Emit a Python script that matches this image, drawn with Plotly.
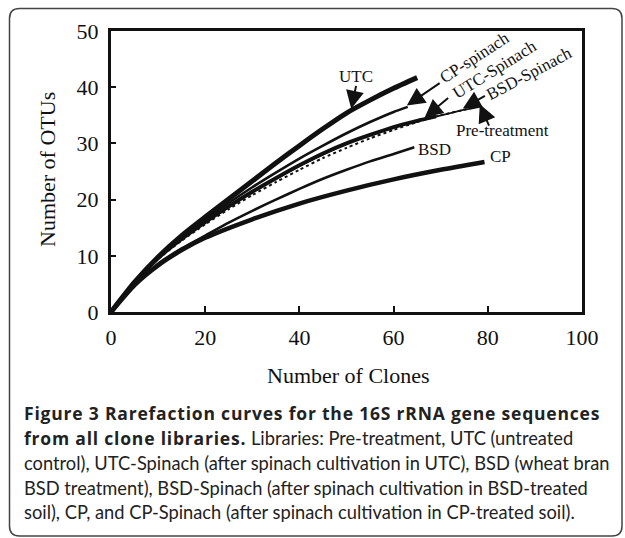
import numpy as np
import plotly.graph_objects as go

# ---------------- data ----------------
utc_x = [0, 5, 10, 15, 20, 25, 30, 35, 40, 45, 50, 55, 60, 65]
utc_y = [0, 5.3, 9.8, 13.6, 16.9, 20.1, 23.3, 26.5, 29.6, 32.6, 35.4, 37.7, 39.8, 41.7]

cpsp_x = [0, 5, 10, 15, 20, 25, 30, 35, 40, 45, 50, 55, 60, 63]
cpsp_y = [0, 5.3, 9.7, 13.3, 16.4, 19.4, 22.2, 24.8, 27.3, 29.6, 31.8, 33.8, 35.6, 36.5]

utcsp_x = [0, 5, 10, 15, 20, 25, 30, 35, 40, 45, 50, 55, 60, 65, 69]
utcsp_y = [0, 5.2, 9.6, 13.0, 16.0, 18.8, 21.4, 23.8, 26.1, 28.2, 30.0, 31.5, 32.9, 34.0, 34.8]

bsdsp_x = [0, 5, 10, 15, 20, 25, 30, 35, 40, 45, 50, 55, 60, 65, 69, 74, 78.2]
bsdsp_y = [0, 5.2, 9.6, 13.0, 15.9, 18.7, 21.3, 23.7, 26.0, 28.0, 29.9, 31.5, 32.9, 34.0, 34.8, 35.8, 36.5]

pre_x = [0, 5, 10, 15, 20, 25, 30, 35, 40, 45, 50, 55, 60, 65, 70, 75, 78.5]
pre_y = [0, 5.2, 9.4, 12.7, 15.6, 18.3, 20.8, 23.1, 25.3, 27.4, 29.2, 30.9, 32.4, 33.8, 35.0, 36.0, 36.7]

bsd_x = [0, 5, 10, 15, 20, 25, 30, 35, 40, 45, 50, 55, 60, 64.4]
bsd_y = [0, 4.9, 8.6, 11.3, 13.6, 15.9, 18.0, 20.0, 21.9, 23.7, 25.3, 26.8, 28.1, 29.3]

cp_x = [0, 5, 10, 15, 20, 30, 40, 50, 60, 70, 79.3]
cp_y = [0, 4.8, 8.3, 11.0, 13.2, 16.5, 19.3, 21.6, 23.6, 25.3, 26.7]

x_ticks = [0, 20, 40, 60, 80, 100]
y_ticks = [0, 10, 20, 30, 40, 50]

# curve labels: text, x, y, angle
labels = [
    ("UTC", 52.1, 41.9, 0),
    ("CP-spinach", 77.2, 45.3, -33),
    ("UTC-Spinach", 81.4, 43.2, -32),
    ("BSD-Spinach", 88.8, 42.5, -28),
    ("Pre-treatment", 83.2, 32.3, 0),
    ("BSD", 68.7, 28.9, 0),
    ("CP", 82.8, 27.6, 0),
]
# arrows: curve name, tail (x, y), tip x on that curve
arrows = [
    ("UTC", 52.1, 40.5, 51.0),
    ("CP-spinach", 70.1, 40.9, 62.8),
    ("UTC-Spinach", 71.9, 38.3, 66.6),
    ("BSD-Spinach", 79.7, 38.6, 74.7),
    ("Pre-treatment", 80.4, 32.9, 78.3),
]

BOLD = ('<span style="font-family:\'Open Sans\';font-weight:bold;font-size:17.5px;'
        'letter-spacing:0.8px">')
caption_lines = [
    BOLD + "Figure 3 Rarefaction curves for the 16S rRNA gene sequences</span>",
    BOLD + "from all clone libraries.</span> Libraries: Pre-treatment, UTC (untreated",
    "control), UTC-Spinach (after spinach cultivation in UTC), BSD (wheat bran",
    "BSD treatment), BSD-Spinach (after spinach cultivation in BSD-treated",
    "soil), CP, and CP-Spinach (after spinach cultivation in CP-treated soil).",
]

# ---------------- figure ----------------
W, H = 625, 538
L, R, T, B = 111, 43, 31, 226
pw, ph = W - L - R, H - T - B


def px2paper(px, py):
    return (px - L) / pw, (H - B - py) / ph


black = "#111111"
series = [
    ("UTC", utc_x, utc_y, 5, "solid"),
    ("CP-spinach", cpsp_x, cpsp_y, 2.6, "solid"),
    ("UTC-Spinach", utcsp_x, utcsp_y, 4, "solid"),
    ("BSD-Spinach", bsdsp_x, bsdsp_y, 1.8, "solid"),
    ("Pre-treatment", pre_x, pre_y, 2, "dot"),
    ("BSD", bsd_x, bsd_y, 2.6, "solid"),
    ("CP", cp_x, cp_y, 4.5, "solid"),
]
curve = {}
fig = go.Figure()
for name, xs, ys, w, dash in series:
    curve[name] = (xs, ys)
    fig.add_trace(go.Scatter(x=xs, y=ys, mode="lines", name=name,
                             line=dict(color=black, width=w, dash=dash, shape="spline", smoothing=0.6),
                             showlegend=False, hoverinfo="skip"))

serif = "Liberation Serif, Times New Roman, serif"
annotations = []
for text, x, y, ang in labels:
    annotations.append(dict(x=x, y=y, xref="x", yref="y", text=text, showarrow=False,
                            textangle=ang, font=dict(family=serif, size=17, color=black)))
for name, tx, ty, hx in arrows:
    xs, ys = curve[name]
    hy = float(np.interp(hx, xs, ys)) + 0.3
    annotations.append(dict(x=hx, y=hy, xref="x", yref="y", ax=tx, ay=ty, axref="x", ayref="y",
                            text="", showarrow=True, arrowhead=2, arrowsize=1.8, arrowwidth=2,
                            arrowcolor=black, standoff=0))

# axis titles
xt = px2paper(348, 375)
annotations.append(dict(x=xt[0], y=xt[1], xref="paper", yref="paper", text="Number of Clones",
                        xanchor="center", yanchor="middle",
                        showarrow=False, font=dict(family=serif, size=22, color=black)))
yt = px2paper(47, 170)
annotations.append(dict(x=yt[0], y=yt[1], xref="paper", yref="paper", text="Number of OTUs",
                        xanchor="center", yanchor="middle",
                        showarrow=False, textangle=-90, font=dict(family=serif, size=22, color=black)))

cap_y = [413, 438, 463, 488, 512]
for line, py in zip(caption_lines, cap_y):
    cx, cy = px2paper(22, py)
    annotations.append(dict(x=cx, y=cy, xref="paper", yref="paper", text=line, showarrow=False,
                            xanchor="left", yanchor="middle",
                            font=dict(family="Lato, Open Sans, sans-serif", size=18.3, color="#222222")))

# rounded frame
fx0, fy0 = px2paper(9.5, 8.5)
fx1, fy1 = px2paper(622, 536)
rx, ry = 10 / pw, 10 / ph
path = (f"M {fx0+rx},{fy0} L {fx1-rx},{fy0} Q {fx1},{fy0} {fx1},{fy0-ry} "
        f"L {fx1},{fy1+ry} Q {fx1},{fy1} {fx1-rx},{fy1} "
        f"L {fx0+rx},{fy1} Q {fx0},{fy1} {fx0},{fy1+ry} "
        f"L {fx0},{fy0-ry} Q {fx0},{fy0} {fx0+rx},{fy0} Z")

fig.update_layout(
    width=W, height=H, margin=dict(l=L, r=R, t=T, b=B, autoexpand=False),
    paper_bgcolor="white", plot_bgcolor="white",
    annotations=annotations,
    shapes=[dict(type="path", path=path, xref="paper", yref="paper",
                 line=dict(color="#444444", width=1.5), layer="below")],
    xaxis=dict(range=[0, 100], tickvals=x_ticks, showgrid=False, zeroline=False,
               showline=True, linewidth=3, linecolor=black, mirror=True,
               ticks="inside", ticklen=6, tickwidth=1.5, tickcolor=black,
               ticklabelstandoff=4,
               tickfont=dict(family=serif, size=22, color=black)),
    yaxis=dict(range=[0, 50], tickvals=y_ticks, showgrid=False, zeroline=False,
               showline=True, linewidth=3, linecolor=black, mirror=True,
               ticks="inside", ticklen=5, tickwidth=1.5, tickcolor=black,
               ticklabelstandoff=5,
               tickfont=dict(family=serif, size=22, color=black)),
)

fig.write_html("out.html", config={"displayModeBar": False},
               post_script="document.body.style.margin='0px';document.body.style.overflow='hidden';")
